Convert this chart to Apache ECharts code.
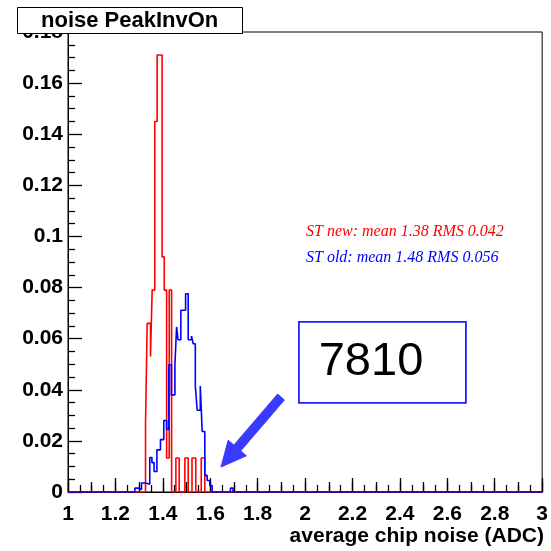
<!DOCTYPE html>
<html><head><meta charset="utf-8">
<script src="https://cdn.jsdelivr.net/npm/echarts@6/dist/echarts.min.js"></script>
<style>html,body{margin:0;padding:0;background:#fff}#c{width:551px;height:551px}</style>
</head><body><div id="c"></div>
<script>
// Histogram step edges (x, ADC) and the value of the bin starting at each edge
const redEdges  = [1.327, 1.334, 1.348, 1.355, 1.366, 1.376, 1.397, 1.406, 1.416, 1.427, 1.437, 1.455, 1.469, 1.493, 1.507, 1.523, 1.539, 1.562, 1.577];
const redValues = [0.0265, 0.066, 0.053, 0.079, 0.145, 0.171, 0.092, 0.079, 0.0133, 0.079, 0, 0.0133, 0, 0.0133, 0, 0.0133, 0, 0.0133, 0];
const blueEdges  = [1.282, 1.297, 1.310, 1.328, 1.345, 1.354, 1.363, 1.375, 1.390, 1.404, 1.416, 1.425, 1.436, 1.451, 1.458, 1.464, 1.476, 1.496, 1.507, 1.521, 1.528, 1.537, 1.545, 1.558, 1.566, 1.577, 1.587, 1.598, 1.608, 1.685, 1.696];
const blueValues = [0.0015, 0.001, 0.0035, 0.003, 0.0135, 0.0115, 0.008, 0.0165, 0.0205, 0.028, 0.0245, 0.0498, 0.038, 0.0498, 0.0646, 0.0596, 0.0711, 0.0776, 0.0596, 0.061, 0.058, 0.0415, 0.032, 0.0415, 0.0237, 0.0065, 0.0045, 0.0025, 0, 0.0015, 0];
const xMin = 1, xMax = 3, xStep = 0.2;
const yMin = 0, yMax = 0.18, yStep = 0.02;
const titleText = 'noise PeakInvOn';
const xTitle = 'average chip noise (ADC)';
const legendNew = 'ST new: mean 1.38 RMS 0.042';
const legendOld = 'ST old: mean 1.48 RMS 0.056';
const boxLabel = '7810';

function steps(edges, vals) {
  const d = [[xMin, 0]];
  for (let i = 0; i < edges.length; i++) d.push([edges[i], vals[i]]);
  d.push([xMax, 0]);
  return d;
}
const SANS = 'Liberation Sans, Arial, Helvetica, sans-serif';
const SERIF = 'Liberation Serif, Times New Roman, serif';
const chart = echarts.init(document.getElementById('c'), null, {renderer: 'canvas'});
const grid = {left: 68, right: 7, top: 32, bottom: 59};
chart.setOption({
  animation: false,
  backgroundColor: '#fff',
  title: {
    text: titleText, left: 17, top: 7,
    padding: [3, 24, 2, 24],
    backgroundColor: '#fff', borderColor: '#000', borderWidth: 1,
    textStyle: {fontFamily: SANS, fontWeight: 'bold', fontSize: 22, color: '#000'},
    z: 20
  },
  grid: Object.assign({show: true, borderColor: '#000', borderWidth: 1, backgroundColor: 'transparent'}, grid),
  xAxis: [{
    type: 'value', min: xMin, max: xMax, interval: xStep,
    axisLine: {show: true, onZero: false, lineStyle: {color: '#000', width: 1}},
    axisTick: {show: true, inside: true, length: 14, lineStyle: {color: '#000', width: 1.3}},
    minorTick: {show: true, splitNumber: 4, length: 7, lineStyle: {color: '#000', width: 1.3}},
    splitLine: {show: false},
    axisLabel: {margin: 12, color: '#000', fontFamily: SANS, fontWeight: 'bold', fontSize: 21,
      formatter: v => String(Math.round(v * 10) / 10)}
  }, {
    type: 'value', min: xMin, max: xMax, interval: 0.1, position: 'bottom',
    axisLine: {show: false}, axisLabel: {show: false}, splitLine: {show: false},
    axisTick: {show: true, inside: true, length: 10, lineStyle: {color: '#000', width: 1.3}}
  }],
  yAxis: [{
    type: 'value', min: yMin, max: yMax, interval: yStep,
    axisLine: {show: true, onZero: false, lineStyle: {color: '#000', width: 1}},
    axisTick: {show: true, inside: true, length: 14, lineStyle: {color: '#000', width: 1.3}},
    minorTick: {show: true, splitNumber: 4, length: 7, lineStyle: {color: '#000', width: 1.3}},
    splitLine: {show: false},
    axisLabel: {margin: 5, color: '#000', fontFamily: SANS, fontWeight: 'bold', fontSize: 21,
      formatter: v => v === 0 ? '0' : String(Math.round(v * 100) / 100)}
  }],
  series: [{
    type: 'line', name: 'ST new', step: 'end', showSymbol: false, symbol: 'none',
    data: steps(redEdges, redValues),
    lineStyle: {color: '#ff0000', width: 1.6}, z: 3
  }, {
    type: 'line', name: 'ST old', step: 'end', showSymbol: false, symbol: 'none',
    data: steps(blueEdges, blueValues),
    lineStyle: {color: '#0000ff', width: 1.6}, z: 4
  }],
  graphic: [
    {type: 'text', right: 7, top: 526, z: 10,
     style: {text: xTitle, fill: '#000', font: 'bold 21px ' + SANS, textAlign: 'right'}},
    {type: 'text', left: 306, top: 224, z: 10,
     style: {text: legendNew, fill: '#ff0000', font: 'italic 16px ' + SERIF}},
    {type: 'text', left: 306, top: 250, z: 10,
     style: {text: legendOld, fill: '#0000ff', font: 'italic 16px ' + SERIF}},
    {type: 'rect', left: 298, top: 321, z: 10,
     shape: {width: 167, height: 81},
     style: {fill: '#fff', stroke: '#2020ff', lineWidth: 1.8}},
    {type: 'text', x: 371, y: 362, z: 11,
     style: {text: boxLabel, fill: '#000', font: '47px ' + SANS, textAlign: 'center', textVerticalAlign: 'middle'}},
    {type: 'polygon', z: 10,
     shape: {points: [[284.4, 399.9], [240.7, 450.9], [246.4, 455.8], [221, 467], [228.2, 440.2], [233.9, 445.1], [277.6, 394.1]]},
     style: {fill: '#3a3aff', stroke: '#3a3aff', lineWidth: 1}}
  ]
});
</script></body></html>
